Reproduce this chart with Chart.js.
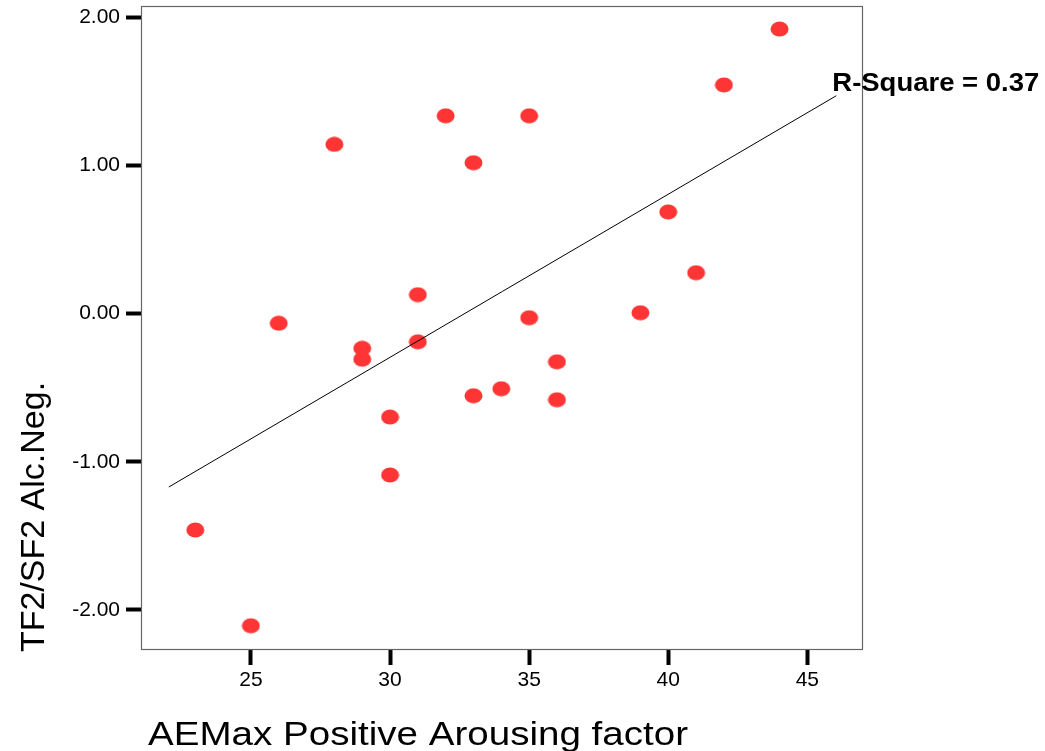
<!DOCTYPE html>
<html>
<head>
<meta charset="utf-8">
<style>
html,body{margin:0;padding:0;background:#fff;}
#c{display:block;}
</style>
<script src="https://cdn.jsdelivr.net/npm/chart.js@4.4.0/dist/chart.umd.min.js"></script>
</head>
<body>
<canvas id="c" width="1045" height="751"></canvas>
<script>
// ---- data ----
const xValues = [44, 42, 32, 35, 28, 33, 40, 41, 31, 26, 35, 39, 29, 29, 31, 36, 34, 33, 36, 30, 30, 23, 25];
const yValues = [1.92, 1.543, 1.335, 1.335, 1.142, 1.018, 0.686, 0.276, 0.128, -0.065, -0.028, 0.006, -0.234, -0.308, -0.190, -0.325, -0.507, -0.554, -0.581, -0.698, -1.089, -1.46, -2.106];
const fitX = [22.05, 46.04];
const fitY = [-1.17, 1.47];
const xTicks = [25, 30, 35, 40, 45];
const yTicks = [-2, -1, 0, 1, 2];
const xTitle = 'AEMax Positive Arousing factor';
const yTitle = 'TF2/SF2 Alc.Neg.';
const rSquareLabel = 'R-Square = 0.37';

const FONT = '"Liberation Sans", Arial, sans-serif';

// elliptical marker
const marker = document.createElement('canvas');
marker.width = 19; marker.height = 16;
(function(){
  const m = marker.getContext('2d');
  m.fillStyle = '#ff3535';
  m.beginPath();
  m.ellipse(9.5, 8, 9, 7.6, 0, 0, Math.PI * 2);
  m.fill();
})();

const scatterData = xValues.map((x, i) => ({x: x, y: yValues[i]}));
const fitData = fitX.map((x, i) => ({x: x, y: fitY[i]}));

function stretchedText(ctx, text, x, y, targetWidth) {
  const w = ctx.measureText(text).width;
  ctx.save();
  ctx.translate(x, y);
  ctx.scale(targetWidth / w, 1);
  ctx.fillText(text, 0, 0);
  ctx.restore();
}

const decorations = {
  id: 'decorations',
  afterDraw(chart) {
    const ctx = chart.ctx;
    const a = chart.chartArea;
    const xs = chart.scales.x, ys = chart.scales.y;
    ctx.save();
    // frame
    ctx.strokeStyle = '#666';
    ctx.lineWidth = 1.2;
    ctx.strokeRect(a.left + 0.5, a.top + 0.5, a.right - a.left - 1, a.bottom - a.top - 1);
    // R-square label
    ctx.fillStyle = '#000';
    ctx.font = 'bold 26px ' + FONT;
    ctx.textAlign = 'left';
    ctx.textBaseline = 'alphabetic';
    const ex = xs.getPixelForValue(fitX[fitX.length - 1]);
    const ey = ys.getPixelForValue(fitY[fitY.length - 1]);
    stretchedText(ctx, rSquareLabel, ex - 4, ey - 4.5, 207);
    // x title
    ctx.font = '34px ' + FONT;
    stretchedText(ctx, xTitle, 148, 745, 540);
    // y title
    ctx.save();
    ctx.translate(44, 517);
    ctx.rotate(-Math.PI / 2);
    ctx.textAlign = 'center';
    ctx.font = '34px ' + FONT;
    ctx.fillText(yTitle, 0, 0);
    ctx.restore();
    ctx.restore();
  }
};

new Chart(document.getElementById('c'), {
  type: 'scatter',
  data: {
    datasets: [
      {
        type: 'line',
        data: fitData,
        borderColor: '#000',
        borderWidth: 1,
        pointRadius: 0,
        fill: false,
        order: 0
      },
      {
        type: 'scatter',
        data: scatterData,
        pointStyle: marker,
        pointRadius: 9,
        order: 1
      }
    ]
  },
  options: {
    responsive: false,
    animation: false,
    events: [],
    layout: { autoPadding: false, padding: { top: 6, right: 182, left: 0, bottom: 0 } },
    plugins: { legend: { display: false }, tooltip: { enabled: false } },
    scales: {
      x: {
        type: 'linear',
        min: 21.05,
        max: 47.0,
        afterFit(s) { s.height = 101; s.paddingLeft = 0; s.paddingRight = 0; },
        afterBuildTicks(s) { s.ticks = xTicks.map(v => ({value: v})); },
        grid: { display: true, drawOnChartArea: false, drawTicks: true, tickLength: 15, tickWidth: 4, tickColor: '#000' },
        border: { display: false },
        ticks: { color: '#000', font: { family: FONT, size: 21 }, padding: 3, maxRotation: 0, callback: v => String(v) }
      },
      y: {
        type: 'linear',
        min: -2.27,
        max: 2.0756,
        afterFit(s) { s.width = 141; s.paddingTop = 0; s.paddingBottom = 0; },
        afterBuildTicks(s) { s.ticks = yTicks.map(v => ({value: v})); },
        grid: { display: true, drawOnChartArea: false, drawTicks: true, tickLength: 15, tickWidth: 4, tickColor: '#000' },
        border: { display: false },
        ticks: { color: '#000', font: { family: FONT, size: 21 }, padding: 6, callback: v => Number(v).toFixed(2) }
      }
    }
  },
  plugins: [decorations]
});
</script>
</body>
</html>
